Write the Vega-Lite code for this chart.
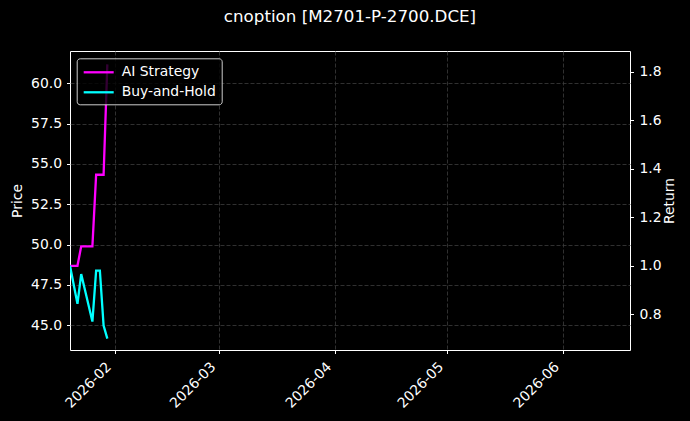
{
  "$schema": "https://vega.github.io/schema/vega-lite/v6.json",
  "width": 560,
  "height": 299,
  "autosize": {"type": "none"},
  "padding": {"left": 70, "top": 51, "right": 60, "bottom": 71},
  "background": "black",
  "title": {
    "text": "cnoption [M2701-P-2700.DCE]",
    "font": "DejaVu Sans",
    "fontSize": 16.7,
    "fontWeight": "normal",
    "color": "white",
    "anchor": "middle",
    "baseline": "alphabetic",
    "offset": 12
  },
  "data": {
    "values": [
      {"date": "2026-01-20T00:00:00", "series": "AI Strategy", "value": 1.0},
      {"date": "2026-01-22T00:00:00", "series": "AI Strategy", "value": 1.0},
      {"date": "2026-01-23T00:00:00", "series": "AI Strategy", "value": 1.08},
      {"date": "2026-01-26T00:00:00", "series": "AI Strategy", "value": 1.08},
      {"date": "2026-01-27T00:00:00", "series": "AI Strategy", "value": 1.375},
      {"date": "2026-01-28T00:00:00", "series": "AI Strategy", "value": 1.375},
      {"date": "2026-01-29T00:00:00", "series": "AI Strategy", "value": 1.375},
      {"date": "2026-01-30T00:00:00", "series": "AI Strategy", "value": 1.83},
      {"date": "2026-01-20T00:00:00", "series": "Buy-and-Hold", "value": 1.0},
      {"date": "2026-01-22T00:00:00", "series": "Buy-and-Hold", "value": 0.843},
      {"date": "2026-01-23T00:00:00", "series": "Buy-and-Hold", "value": 0.966},
      {"date": "2026-01-26T00:00:00", "series": "Buy-and-Hold", "value": 0.77},
      {"date": "2026-01-27T00:00:00", "series": "Buy-and-Hold", "value": 0.98},
      {"date": "2026-01-28T00:00:00", "series": "Buy-and-Hold", "value": 0.98},
      {"date": "2026-01-29T00:00:00", "series": "Buy-and-Hold", "value": 0.754},
      {"date": "2026-01-30T00:00:00", "series": "Buy-and-Hold", "value": 0.7}
    ]
  },
  "layer": [
    {
      "mark": {"type": "rule", "opacity": 0},
      "encoding": {
        "y": {
          "datum": 50,
          "type": "quantitative",
          "scale": {"domain": [43.47, 62.0], "nice": false, "zero": false},
          "axis": {
            "orient": "left",
            "title": "Price",
            "values": [45, 47.5, 50, 52.5, 55, 57.5, 60],
            "format": ".1f",
            "labelPadding": 5,
            "titlePadding": 6,
            "gridColor": "#3c3c3c",
            "gridDash": [4, 2]
          }
        }
      }
    },
    {
      "mark": {"type": "line", "strokeWidth": 2.3, "clip": true},
      "encoding": {
        "x": {
          "field": "date",
          "type": "temporal",
          "scale": {
            "domain": [
              {"year": 2026, "month": 1, "date": 20},
              {"year": 2026, "month": 6, "date": 19}
            ]
          },
          "axis": {
            "title": null,
            "format": "%Y-%m",
            "tickCount": {"interval": "month", "step": 1},
            "labelAngle": -45,
            "labelAlign": "right",
            "labelBaseline": "top",
            "labelOffset": -11,
            "labelPadding": 6,
            "gridColor": "#3c3c3c",
            "gridDash": [4, 2]
          }
        },
        "y": {
          "field": "value",
          "type": "quantitative",
          "scale": {"domain": [0.653, 1.885], "nice": false, "zero": false},
          "axis": {
            "orient": "right",
            "title": "Return",
            "titleAngle": 270,
            "titleBaseline": "top",
            "values": [0.8, 1.0, 1.2, 1.4, 1.6, 1.8],
            "format": ".1f",
            "labelPadding": 5.5,
            "titlePadding": 1,
            "gridColor": "#333333",
            "gridDash": [1.5, 2.5]
          }
        },
        "color": {
          "field": "series",
          "type": "nominal",
          "scale": {
            "domain": ["AI Strategy", "Buy-and-Hold"],
            "range": ["#ff00ff", "#00ffff"]
          },
          "legend": {
            "title": null,
            "orient": "none",
            "legendX": 6.7,
            "legendY": 7.3,
            "symbolType": "M-2,0H2",
            "symbolSize": 225,
            "symbolStrokeWidth": 2.3,
            "symbolOffset": 8,
            "labelOffset": 14,
            "labelFont": "DejaVu Sans",
            "labelFontSize": 13.9,
            "labelColor": "white",
            "fillColor": "rgba(0,0,0,0.8)",
            "strokeColor": "#cccccc",
            "cornerRadius": 3,
            "padding": 5,
            "rowPadding": 4
          }
        }
      }
    }
  ],
  "resolve": {"scale": {"y": "independent"}},
  "config": {
    "font": "DejaVu Sans",
    "view": {"stroke": "white", "strokeWidth": 1},
    "axis": {
      "domain": false,
      "grid": true,
      "gridWidth": 0.8,
      "tickColor": "white",
      "tickSize": 3.5,
      "tickWidth": 1,
      "labelColor": "white",
      "labelFont": "DejaVu Sans",
      "labelFontSize": 13.9,
      "titleColor": "white",
      "titleFont": "DejaVu Sans",
      "titleFontSize": 13.9,
      "titleFontWeight": "normal"
    }
  }
}
